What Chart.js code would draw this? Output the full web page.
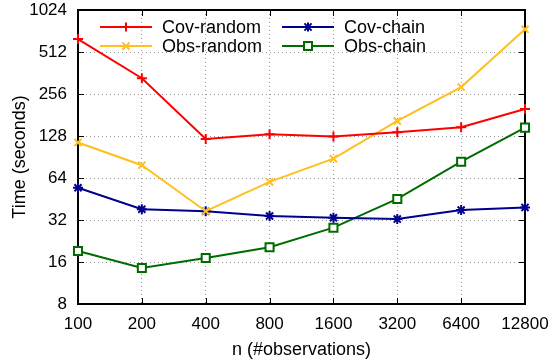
<!DOCTYPE html>
<html><head><meta charset="utf-8">
<script src="https://cdn.jsdelivr.net/npm/chart.js@4/dist/chart.umd.min.js"></script>
<style>html,body{margin:0;background:#fff}#wrap{width:550px;height:364px}</style>
</head><body><div id="wrap"><canvas id="c"></canvas></div>
<script>
const N_LABELS=['100','200','400','800','1600','3200','6400','12800'];
const Y_TICKS=[8,16,32,64,128,256,512,1024];
const COV_RANDOM=[634,332,122,132,127,136,148,200];
const OBS_RANDOM=[115,79,37,60,88,164,287,744];
const COV_CHAIN=[54.5,38.2,36.9,34.2,33.2,32.5,37.7,39.4];
const OBS_CHAIN=[19.2,14.5,17.1,20.4,28.2,45.3,83.8,147];

const FONT='"Liberation Sans", Arial, sans-serif';
const series=[
  {label:'Cov-random',data:COV_RANDOM,color:'#ff0000',mark:'cross'},
  {label:'Obs-random',data:OBS_RANDOM,color:'#ffbf1f',mark:'crossRot'},
  {label:'Cov-chain',data:COV_CHAIN,color:'#000090',mark:'star'},
  {label:'Obs-chain',data:OBS_CHAIN,color:'#006c00',mark:'rect'}
];

function mark(ctx,kind,x,y,col){
  const r=4.5;
  ctx.save();ctx.strokeStyle=col;ctx.lineWidth=2;ctx.setLineDash([]);
  ctx.beginPath();
  if(kind==='cross'||kind==='star'){ctx.moveTo(x-r,y);ctx.lineTo(x+r,y);ctx.moveTo(x,y-r);ctx.lineTo(x,y+r);}
  if(kind==='crossRot'||kind==='star'){const d=r*0.8;ctx.moveTo(x-d,y-d);ctx.lineTo(x+d,y+d);ctx.moveTo(x-d,y+d);ctx.lineTo(x+d,y-d);}
  if(kind==='rect'){ctx.fillStyle='#fff';ctx.rect(x-4,y-4,8,8);ctx.fill();}
  ctx.stroke();ctx.restore();
}

const frame={
  id:'frame',
  beforeDatasetsDraw(ch){
    const {ctx,chartArea:a,scales:{x,y}}=ch;
    ctx.save();ctx.strokeStyle='#000';ctx.lineWidth=1;
    N_LABELS.forEach((l,i)=>{const px=Math.round(x.getPixelForValue(i))+0.5;
      ctx.beginPath();ctx.moveTo(px,a.bottom);ctx.lineTo(px,a.bottom-6);
      ctx.moveTo(px,a.top);ctx.lineTo(px,a.top+6);ctx.stroke();});
    Y_TICKS.forEach(v=>{const py=Math.round(y.getPixelForValue(v))+0.5;
      ctx.beginPath();ctx.moveTo(a.left,py);ctx.lineTo(a.left+6,py);
      ctx.moveTo(a.right,py);ctx.lineTo(a.right-6,py);ctx.stroke();});
    ctx.lineWidth=2;ctx.strokeRect(a.left,a.top,a.right-a.left,a.bottom-a.top);
    ctx.restore();
  },
  afterDatasetsDraw(ch){
    const ctx=ch.ctx;
    const pos=[[100,27],[100,46],[282,27],[282,46]];
    ctx.save();ctx.font='18px '+FONT;ctx.fillStyle='#000';ctx.textBaseline='middle';
    series.forEach((s,i)=>{const [x0,y0]=pos[i];
      ctx.strokeStyle=s.color;ctx.lineWidth=2;ctx.beginPath();ctx.moveTo(x0,y0);ctx.lineTo(x0+52,y0);ctx.stroke();
      mark(ctx,s.mark,x0+26,y0,s.color);
      ctx.fillText(s.label,x0+62,y0+1);});
    ctx.restore();
  }
};

new Chart(document.getElementById('c'),{
  type:'line',
  data:{labels:N_LABELS,datasets:series.map(s=>({
    label:s.label,data:s.data,borderColor:s.color,backgroundColor:'#fff',borderWidth:2,
    pointStyle:s.mark,pointRadius:s.mark==='rect'?5.7:5,pointBorderWidth:2,pointBorderColor:s.color,
    pointBackgroundColor:'#fff',tension:0,clip:false}))},
  options:{responsive:true,maintainAspectRatio:false,animation:false,
    layout:{padding:{left:0,right:25,top:10,bottom:0}},
    plugins:{legend:{display:false},tooltip:{enabled:false}},
    scales:{
      x:{type:'category',offset:false,
        grid:{color:'#999',drawTicks:false},border:{display:false,dash:[1,3]},
        ticks:{color:'#000',font:{family:FONT,size:17},padding:10,maxRotation:0,autoSkip:false},
        title:{display:true,text:'n (#observations)',color:'#000',font:{family:FONT,size:18},padding:{top:4,bottom:3}},
        afterFit:s=>{s.height=60;s.paddingLeft=0;s.paddingRight=0;}},
      y:{type:'logarithmic',min:8,max:1024,
        afterBuildTicks:s=>{s.ticks=Y_TICKS.map(v=>({value:v}));},
        grid:{color:'#999',drawTicks:false},border:{display:false,dash:[1,3]},
        ticks:{color:'#000',font:{family:FONT,size:17},padding:11,callback:v=>String(v)},
        title:{display:true,text:'Time (seconds)',color:'#000',font:{family:FONT,size:18},padding:{top:9,bottom:4}},
        afterFit:s=>{s.width=78;s.paddingTop=0;s.paddingBottom=0;}}
    }},
  plugins:[frame]
});
</script></body></html>
